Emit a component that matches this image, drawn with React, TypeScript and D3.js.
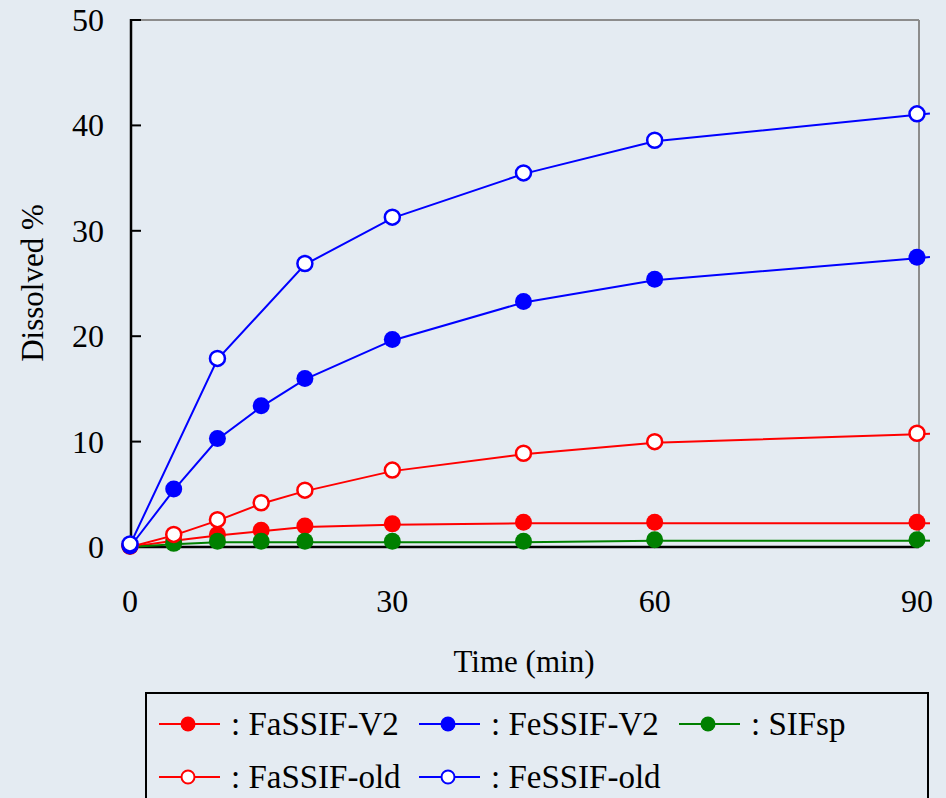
import React, { useEffect } from "react";
import * as d3 from "d3";

const timesFull = [0, 5, 10, 15, 20, 30, 45, 60, 90];
const timesOld = [0, 10, 20, 30, 45, 60, 90];

const fassifV2 = [0, 0.6, 1.1, 1.5, 1.9, 2.1, 2.25, 2.25, 2.25];
const sifsp = [0, 0.25, 0.45, 0.45, 0.45, 0.45, 0.45, 0.6, 0.6];
const fassifOld = [0, 1.1, 2.5, 4.1, 5.3, 7.2, 8.8, 9.9, 10.7];
const fessifV2 = [0, 5.4, 10.2, 13.3, 15.9, 19.6, 23.2, 25.3, 27.4];
const fessifOld = [0.2, 17.8, 26.8, 31.2, 35.4, 38.5, 41.0];

const yTicks = [0, 10, 20, 30, 40, 50];
const xTicks = [0, 30, 60, 90];

type Series = { name: string; times: number[]; values: number[]; color: string; open: boolean };

const seriesList: Series[] = [
  { name: "FaSSIF-V2", times: timesFull, values: fassifV2, color: "#ff0000", open: false },
  { name: "SIFsp", times: timesFull, values: sifsp, color: "#008000", open: false },
  { name: "FaSSIF-old", times: timesFull, values: fassifOld, color: "#ff0000", open: true },
  { name: "FeSSIF-V2", times: timesFull, values: fessifV2, color: "#0000ff", open: false },
  { name: "FeSSIF-old", times: timesOld, values: fessifOld, color: "#0000ff", open: true },
];

const legendRows: { name: string; color: string; open: boolean }[][] = [
  [
    { name: "FaSSIF-V2", color: "#ff0000", open: false },
    { name: "FeSSIF-V2", color: "#0000ff", open: false },
    { name: "SIFsp", color: "#008000", open: false },
  ],
  [
    { name: "FaSSIF-old", color: "#ff0000", open: true },
    { name: "FeSSIF-old", color: "#0000ff", open: true },
  ],
];

const W = 946;
const H = 798;
const BG = "#e4ebf2";
const FONT = "'Liberation Serif', 'Times New Roman', serif";

export default function App() {
  useEffect(() => {
    document.body.style.margin = "0";
  }, []);

  const x = d3.scaleLinear().domain([0, 90]).range([130, 917]);
  const y = d3.scaleLinear().domain([0, 50]).range([547, 20]);
  const line = d3
    .line<[number, number]>()
    .x((d) => x(d[0]))
    .y((d) => y(d[1]));

  const ext = 13;
  const colX = [159, 419, 679];
  const rowY = [724, 777];

  return (
    <svg width={W} height={H} style={{ display: "block" }} fontFamily={FONT}>
      <rect x={0} y={0} width={W} height={H} fill={BG} />
      {/* frame */}
      <line x1={131} x2={919} y1={20} y2={20} stroke="#8c8c8c" strokeWidth={2} />
      <line x1={919} x2={919} y1={20} y2={547} stroke="#8c8c8c" strokeWidth={2} />
      <line x1={130} x2={919} y1={y(0)} y2={y(0)} stroke="#000" strokeWidth={2.5} />
      <line x1={131} x2={131} y1={19} y2={548} stroke="#000" strokeWidth={2.5} />
      {yTicks.map((t) => (
        <g key={t}>
          <line x1={131} x2={141} y1={y(t)} y2={y(t)} stroke="#000" strokeWidth={2} />
          <text x={104} y={y(t) + 11} textAnchor="end" fontSize={32} fill="#000">
            {t}
          </text>
        </g>
      ))}
      {xTicks.map((t) => (
        <text key={t} x={x(t)} y={612} textAnchor="middle" fontSize={32} fill="#000">
          {t}
        </text>
      ))}
      <text x={524} y={672} textAnchor="middle" fontSize={31} fill="#000">
        Time (min)
      </text>
      <text
        transform={`translate(43,${283}) rotate(-90)`}
        textAnchor="middle"
        fontSize={31}
        fill="#000"
      >
        Dissolved %
      </text>
      {/* series */}
      {seriesList.map((s) => {
        const pts: [number, number][] = s.times.map((t, i) => [t, s.values[i]]);
        const n = pts.length;
        const x1 = x(pts[n - 2][0]);
        const y1 = y(pts[n - 2][1]);
        const x2 = x(pts[n - 1][0]);
        const y2 = y(pts[n - 1][1]);
        const len = Math.hypot(x2 - x1, y2 - y1);
        const ex = x2 + ((x2 - x1) / len) * ext;
        const ey = y2 + ((y2 - y1) / len) * ext;
        return (
          <g key={s.name}>
            <path d={line(pts) || ""} fill="none" stroke={s.color} strokeWidth={2} />
            <line x1={x2} y1={y2} x2={ex} y2={ey} stroke={s.color} strokeWidth={2} />
            {pts.map((p, i) =>
              s.open ? (
                <circle key={i} cx={x(p[0])} cy={y(p[1]) - 1} r={7.5} fill="#fff" stroke={s.color} strokeWidth={2.5} />
              ) : (
                <circle key={i} cx={x(p[0])} cy={y(p[1]) - 1} r={8.5} fill={s.color} />
              )
            )}
          </g>
        );
      })}
      {/* legend */}
      <rect x={146} y={693} width={782} height={140} fill={BG} stroke="#000" strokeWidth={2} />
      {legendRows.map((row, ri) =>
        row.map((item, ci) => {
          const lx = colX[ci];
          const ly = rowY[ri];
          return (
            <g key={item.name}>
              <line x1={lx} x2={lx + 61} y1={ly} y2={ly} stroke={item.color} strokeWidth={2} />
              {item.open ? (
                <circle cx={lx + 29} cy={ly} r={6.5} fill="#fff" stroke={item.color} strokeWidth={2} />
              ) : (
                <circle cx={lx + 29} cy={ly} r={7.5} fill={item.color} />
              )}
              <text x={lx + 72} y={ly + 11} fontSize={33} fill="#000">
                {": " + item.name}
              </text>
            </g>
          );
        })
      )}
    </svg>
  );
}
